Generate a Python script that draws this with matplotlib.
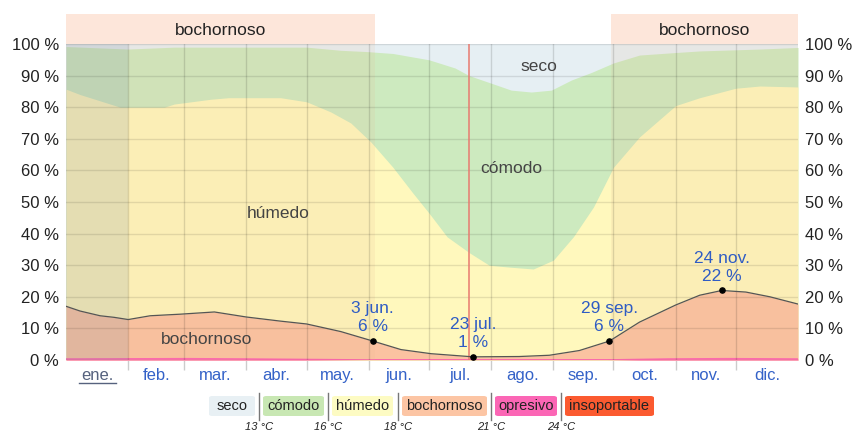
import numpy as np
import matplotlib.pyplot as plt
from matplotlib.patches import FancyBboxPatch
from matplotlib.lines import Line2D

plt.rcParams['font.family'] = ['Liberation Sans', 'DejaVu Sans']

# day of year -> cumulative share (%) at top of each band
comodo_days = [0, 31, 54, 90, 120, 137, 150, 163, 181, 194, 201, 212, 222, 232, 242, 252, 262, 273, 286, 304, 316, 346, 365]
comodo_top = [99.2, 98.4, 99, 99, 99, 98, 97.6, 97, 95, 92.4, 90, 87.6, 85.4, 84.8, 85.4, 88.6, 91, 94, 96.5, 97.3, 97.8, 98.4, 98.9]

humedo_days = [0, 7, 17, 27, 49, 54, 72, 81, 107, 120, 132, 142, 152, 163, 173, 181, 190, 201, 211, 221,
               233, 243, 253, 263, 273, 286, 304, 316, 334, 346, 365]
humedo_top = [85.7, 84, 82, 80, 80, 81, 82.5, 83, 83, 81.7, 78.5, 75, 69, 61, 52.8, 46.5, 39, 34, 30, 29.4,
              28.8, 31.6, 39, 48.4, 61, 70.6, 80.5, 83, 86, 86.7, 86.4]

bochornoso_days = [0, 7, 17, 24, 31, 42, 57, 74, 90, 107, 120, 137, 153, 167, 182, 203, 226, 241, 256, 271,
                   286, 304, 316, 327, 339, 351, 365]
bochornoso_top = [17, 15.5, 14, 13.5, 12.8, 14, 14.5, 15.2, 13.6, 12.3, 11.4, 9, 6, 3.3, 2, 1, 1.1, 1.5, 3, 6,
                  12, 17.4, 20.5, 22, 21.5, 20, 17.7]

opresivo_days = [0, 60, 90, 150, 270, 300, 330, 365]
opresivo_top = [0.3, 0.4, 0.3, 0.0, 0.0, 0.3, 0.4, 0.3]

months = ['ene.', 'feb.', 'mar.', 'abr.', 'may.', 'jun.', 'jul.', 'ago.', 'sep.', 'oct.', 'nov.', 'dic.']
month_start = [0, 31, 59, 90, 120, 151, 181, 212, 243, 273, 304, 334, 365]

muggy_seasons = [(0, 154), (272, 365)]
today = 201

ann_days = [153, 203, 271, 327]
ann_vals = [6, 1, 6, 22]
ann_text = ['3 jun.\n6 %', '23 jul.\n1 %', '29 sep.\n6 %', '24 nov.\n22 %']

legend_labels = ['seco', 'cómodo', 'húmedo', 'bochornoso', 'opresivo', 'insoportable']
legend_colors = ['#e8f0f4', '#c8e7b3', '#fdfbc3', '#fcc5a4', '#fb66b5', '#fb5a30']
legend_temps = ['13 °C', '16 °C', '18 °C', '21 °C', '24 °C']

c_seco = '#e6eff3'
c_comodo = '#cdeabf'
c_humedo = '#fff8bd'
c_boch = '#fbc2a1'
c_opres = '#ff5fb0'

W, H = 856, 433
fig = plt.figure(figsize=(W / 100, H / 100), dpi=100)
ax = fig.add_axes([66 / W, 1 - 360 / H, 732 / W, 316 / H])
ax.set_xlim(0, 365)
ax.set_ylim(0, 100)

ax.fill_between([0, 365], 0, 100, color=c_seco, lw=0, zorder=1)
ax.fill_between(comodo_days, 0, comodo_top, color=c_comodo, lw=0, zorder=2)
ax.fill_between(humedo_days, 0, humedo_top, color=c_humedo, lw=0, zorder=3)
ax.fill_between(bochornoso_days, 0, bochornoso_top, color=c_boch, lw=0, zorder=4)
ax.plot(bochornoso_days, bochornoso_top, color='#555555', lw=0.9, zorder=7)
ax.fill_between(opresivo_days, 0, opresivo_top, color=c_opres, lw=0, zorder=5)
ax.plot(opresivo_days, opresivo_top, color=c_opres, lw=1.2, zorder=5)

# muggy season shading and current month
for a, b in muggy_seasons:
    ax.axvspan(a, b, color='#e8b890', alpha=0.14, lw=0, zorder=5.5)
    ax.axvspan(a, b, ymin=1.0, ymax=1.095, color='#fde6da', lw=0, clip_on=False, zorder=1)
    ax.text((a + b) / 2, 104.3, 'bochornoso', ha='center', va='center', fontsize=12.5, color='#222222', clip_on=False)
ax.axvspan(month_start[0], month_start[1], color='#6482a0', alpha=0.15, lw=0, zorder=5.6)

# grid
for v in range(0, 101, 10):
    ax.axhline(v, color='black', alpha=0.1, lw=1, zorder=6)
for d in month_start[1:-1]:
    ax.axvline(d, color='black', alpha=0.13, lw=1, zorder=6)
ax.axvline(today, color='#e87a70', lw=1.1, zorder=6.5)

# band labels
ax.text(70, 6.5, 'bochornoso', fontsize=12.5, color='#444444', ha='center', va='center', zorder=8)
ax.text(106, 46.5, 'húmedo', fontsize=12.5, color='#444444', ha='center', va='center', zorder=8)
ax.text(222, 60.5, 'cómodo', fontsize=12.5, color='#444444', ha='center', va='center', zorder=8)
ax.text(236, 93, 'seco', fontsize=12.5, color='#444444', ha='center', va='center', zorder=8)

# annotations
ax.scatter(ann_days, ann_vals, s=14, color='black', zorder=9)
for d, v, t in zip(ann_days, ann_vals, ann_text):
    ax.annotate(t, (d, v), xytext=(0, 5), textcoords='offset points', ha='center', va='bottom',
                fontsize=12.5, color='#2f5cc4', linespacing=1.25, zorder=9)

# axes ticks
ax.set_yticks(range(0, 101, 10))
ax.set_yticklabels([f'{v} %' for v in range(0, 101, 10)])
ax.tick_params(axis='y', length=0, labelsize=12, labelcolor='#222222', labelright=True, pad=5)
ax.set_xticks(month_start[1:-1], minor=True)
ax.tick_params(axis='x', which='minor', length=7, color='#cccccc', width=1)
mid = [(month_start[i] + month_start[i + 1]) / 2 for i in range(12)]
ax.set_xticks(mid)
ax.set_xticklabels(months)
ax.tick_params(axis='x', which='major', length=0, labelsize=12, labelcolor='#3462c8', pad=6)
ax.get_xticklabels()[0].set_color('#56627e')
for s in ax.spines.values():
    s.set_visible(False)


def px(x, y):
    return x / W, 1 - y / H


# underline for current month
fig.add_artist(Line2D([79 / W, 116 / W], [1 - 383 / H] * 2, color='#56627e', lw=1))

# legend
box_x = [(209, 255), (263, 324), (332, 393), (402, 487), (495, 557), (565, 654)]
for (x0, x1), lab, col in zip(box_x, legend_labels, legend_colors):
    fx, fy = px(x0, 416)
    fig.add_artist(FancyBboxPatch((fx, fy), (x1 - x0) / W, 20 / H, boxstyle='round,pad=0,rounding_size=0.004',
                                  transform=fig.transFigure, color=col, lw=0))
    tx, ty = px((x0 + x1) / 2, 406)
    fig.text(tx, ty, lab, ha='center', va='center', fontsize=10.5, color='#222222')
sep_x = [259, 328, 398, 491, 561]
for sx, t in zip(sep_x, legend_temps):
    fig.add_artist(Line2D([sx / W] * 2, [1 - 393 / H, 1 - 420 / H], color='#777777', lw=1))
    tx, ty = px(sx, 427)
    fig.text(tx, ty, t, ha='center', va='center', fontsize=8, style='italic', color='#222222')

fig.savefig('out.png', dpi=100)
